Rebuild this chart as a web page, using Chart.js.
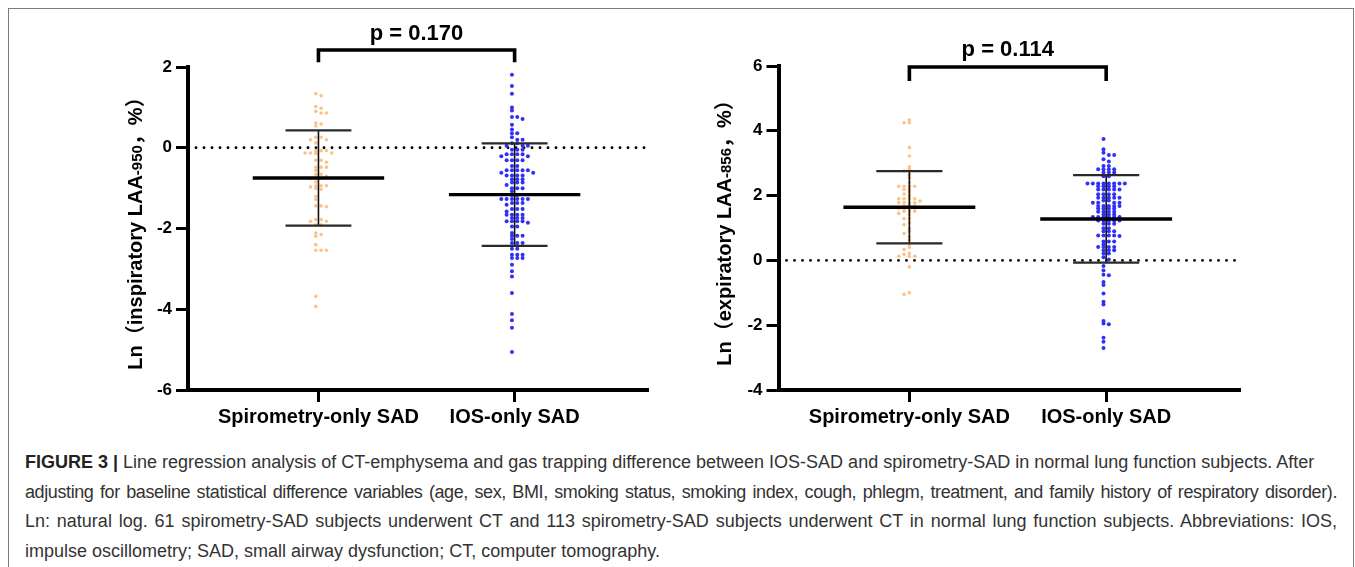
<!DOCTYPE html>
<html><head><meta charset="utf-8">
<script src="https://cdn.jsdelivr.net/npm/chart.js@4.4.1/dist/chart.umd.min.js"></script>
<style>
html,body{margin:0;padding:0;background:#fff;}
body{width:1355px;height:567px;position:relative;overflow:hidden;font-family:"Liberation Sans",Arial,sans-serif;}
#frame{position:absolute;left:8px;top:8px;width:1346px;height:600px;border:1px solid #7d7d7d;box-sizing:border-box;}
#c1{position:absolute;left:10px;top:10px;}
#c2{position:absolute;left:680px;top:10px;}
.cap{position:absolute;left:25px;font-size:18px;color:#333;line-height:29.5px;white-space:nowrap;}
.cap b{color:#222;}
.j{text-align:justify;text-align-last:justify;}
</style></head>
<body>
<div id="frame"></div>
<canvas id="c1" width="660" height="420"></canvas>
<canvas id="c2" width="670" height="420"></canvas>
<div class="cap" style="top:448px"><b>FIGURE 3 |</b> Line regression analysis of CT-emphysema and gas trapping difference between IOS-SAD and spirometry-SAD in normal lung function subjects. After</div>
<div class="cap j" style="top:477.5px;width:1312px;letter-spacing:-0.4px;word-spacing:-1px">adjusting for baseline statistical difference variables (age, sex, BMI, smoking status, smoking index, cough, phlegm, treatment, and family history of respiratory disorder).</div>
<div class="cap j" style="top:507px;width:1312px">Ln: natural log. 61 spirometry-SAD subjects underwent CT and 113 spirometry-SAD subjects underwent CT in normal lung function subjects. Abbreviations: IOS,</div>
<div class="cap" style="top:536.5px">impulse oscillometry; SAD, small airway dysfunction; CT, computer tomography.</div>
<script>
// ---------------- DATA ----------------
const categories = ['Spirometry-only SAD', 'IOS-only SAD'];

const inspSpirometry = [1.34, 1.29, 1.02, 0.98, 0.90, 0.86, 0.86, 0.61, 0.59, 0.54, 0.26, 0.26, 0.20, 0.20, 0.12,
  -0.07, -0.07, -0.07, -0.13, -0.13, -0.13, -0.14, -0.31, -0.31, -0.36, -0.48, -0.48, -0.48, -0.56, -0.66, -0.66,
  -0.71, -0.76, -0.76, -0.76, -0.85, -0.94, -0.94, -0.94, -0.97, -1.01, -1.03, -1.20, -1.28, -1.44, -1.44, -1.46,
  -1.78, -1.78, -1.82, -1.82, -1.91, -1.91, -2.11, -2.15, -2.19, -2.40, -2.54, -2.54, -2.54, -3.68, -3.93];

const inspIOS = [1.81, 1.53, 1.34, 1.00, 0.92, 0.76, 0.76, 0.71, 0.57, 0.45, 0.36, 0.36, 0.26, 0.20, 0.20, 0.11, 0.11,
  0.05, 0.05, 0.05, -0.05, -0.05, -0.05, -0.16, -0.16, -0.16, -0.16, -0.21, -0.21, -0.31, -0.31, -0.31, -0.31,
  -0.45, -0.45, -0.56, -0.56, -0.56, -0.56, -0.56, -0.62, -0.62, -0.69, -0.69, -0.69, -0.69, -0.78, -0.78, -0.78,
  -0.86, -0.86, -0.86, -0.92, -1.00, -1.00, -1.00, -1.08, -1.17, -1.17, -1.27, -1.27, -1.27, -1.27, -1.27, -1.27,
  -1.37, -1.37, -1.37, -1.41, -1.52, -1.52, -1.52, -1.58, -1.66, -1.66, -1.66, -1.66, -1.74, -1.74, -1.74,
  -1.82, -1.82, -1.82, -1.82, -1.86, -1.95, -1.95, -2.11, -2.18, -2.18, -2.18, -2.26, -2.36, -2.36, -2.36,
  -2.50, -2.50, -2.65, -2.65, -2.65, -2.73, -2.73, -2.73, -2.90, -3.06, -3.19, -3.60, -4.12, -4.27, -4.46, -5.06];

const expSpirometry = [4.33, 4.25, 4.25, 3.48, 3.22, 2.89, 2.81, 2.76, 2.65, 2.55, 2.40, 2.29, 2.29, 2.29, 2.29,
  2.19, 2.19, 2.11, 2.05, 2.00, 1.90, 1.90, 1.90, 1.90, 1.83, 1.78, 1.78, 1.78, 1.78, 1.68, 1.68, 1.68,
  1.60, 1.60, 1.60, 1.60, 1.52, 1.52, 1.52, 1.45, 1.42, 1.29, 1.29, 1.16, 1.10, 0.98, 0.90, 0.83, 0.73, 0.63,
  0.49, 0.40, 0.34, 0.22, 0.19, 0.13, 0.13, 0.13, -0.20, -1.00, -1.05];

const expIOS = [3.75, 3.43, 3.32, 3.25, 3.25, 3.12, 3.05, 2.91, 2.91, 2.81, 2.81, 2.81, 2.81, 2.71, 2.71, 2.71,
  2.60, 2.60, 2.37, 2.37, 2.37, 2.37, 2.37, 2.37, 2.37, 2.37, 2.29, 2.29, 2.29, 2.29,
  2.19, 2.19, 2.19, 2.19, 2.19, 2.04, 2.04, 2.04, 2.04, 1.93, 1.93, 1.93, 1.93, 1.93, 1.85, 1.85,
  1.78, 1.78, 1.78, 1.78, 1.68, 1.68, 1.68, 1.68, 1.68, 1.60, 1.60, 1.60, 1.60, 1.50, 1.50, 1.50, 1.50,
  1.42, 1.42, 1.42, 1.34, 1.34, 1.34, 1.34, 1.34, 1.34, 1.23, 1.23, 1.23, 1.23, 1.23, 1.13, 1.13, 1.13,
  0.99, 0.99, 0.90, 0.90, 0.90, 0.77, 0.77, 0.77, 0.77, 0.75, 0.58, 0.58, 0.58, 0.49, 0.41, 0.41, 0.41, 0.41,
  0.31, 0.31, 0.31, 0.21, 0.21, 0.10, 0.03, -0.17, -0.31, -0.44, -0.46, -0.67, -0.76, -1.02, -1.28, -1.36,
  -1.87, -1.95, -1.97, -2.39, -2.51, -2.70];

const inspMeans = [-0.75, -1.16];
const inspSDs = [1.18, 1.27];
const expMeans = [1.64, 1.28];
const expSDs = [1.115, 1.35];

const inspTicks = [-6, -4, -2, 0, 2];
const expTicks = [-4, -2, 0, 2, 4, 6];

const pLabels = ['p = 0.170', 'p = 0.114'];
const inspTitleParts = ['Ln（inspiratory LAA', '-950', '，%）'];
const expTitleParts = ['Ln（expiratory LAA', '-856', '，%）'];

// ---------------- DRAWING ----------------
const FONT = '"Liberation Sans", Arial, "Noto Sans CJK SC", sans-serif';
const ORANGE = 'rgb(251,195,140)';
const BLUE = 'rgb(48,48,250)';

// deterministic beeswarm: place each value in the nearest free column
function swarm(values, center, grid, sepUnits, step) {
  const cols = [];
  if (grid === 'half') { // -0.5, 0.5, 1.5, -1.5, 2.5, -2.5 ...
    cols.push(-0.5, 0.5);
    for (let k = 1; k < 7; k++) { cols.push(k + 0.5, -(k + 0.5)); }
  } else {               // 0, -1, 1, -2, 2 ...
    cols.push(0);
    for (let k = 1; k < 7; k++) { cols.push(-k, k); }
  }
  const idx = values.map((v, i) => i).sort((a, b) => values[b] - values[a]);
  const placed = [];
  const out = [];
  idx.forEach(i => {
    const v = values[i];
    let col = cols[cols.length - 1];
    for (const c of cols) {
      if (!placed.some(p => p.c === c && Math.abs(p.v - v) < sepUnits)) { col = c; break; }
    }
    placed.push({ c: col, v });
    out.push({ x: center + col * step, y: v });
  });
  return out;
}

function overlay(o) {
  return {
    id: 'overlay',
    beforeDatasetsDraw(chart) {
      const { ctx, chartArea: a, scales: { y } } = chart;
      const yz = y.getPixelForValue(0);
      ctx.save();
      ctx.fillStyle = '#000';
      for (let px = a.left + 8; px <= a.right - 1; px += 8) {
        ctx.beginPath(); ctx.arc(px, yz, 1.4, 0, Math.PI * 2); ctx.fill();
      }
      ctx.restore();
    },
    afterDatasetsDraw(chart) {
      const { ctx, scales: { x, y } } = chart;
      ctx.save();
      o.means.forEach((m, i) => {
        const c = i + 1;
        const xc = x.getPixelForValue(c);
        const ym = y.getPixelForValue(m);
        const yu = y.getPixelForValue(m + o.sds[i]);
        const yl = y.getPixelForValue(m - o.sds[i]);
        ctx.strokeStyle = '#111';
        ctx.lineWidth = 1.6;
        ctx.beginPath(); ctx.moveTo(xc, yu); ctx.lineTo(xc, yl); ctx.stroke();
        ctx.strokeStyle = '#2a2a2a';
        ctx.lineWidth = 2.2;
        const c1 = x.getPixelForValue(c - 0.168), c2 = x.getPixelForValue(c + 0.168);
        ctx.beginPath(); ctx.moveTo(c1, yu); ctx.lineTo(c2, yu); ctx.moveTo(c1, yl); ctx.lineTo(c2, yl); ctx.stroke();
        ctx.strokeStyle = '#000';
        ctx.lineWidth = 3.4;
        ctx.beginPath(); ctx.moveTo(x.getPixelForValue(c - 0.335), ym); ctx.lineTo(x.getPixelForValue(c + 0.335), ym); ctx.stroke();
      });
      ctx.restore();
    },
    afterDraw(chart) {
      const { ctx, chartArea: a, scales: { x, y } } = chart;
      ctx.save();
      // significance bracket
      const x1 = x.getPixelForValue(1), x2 = x.getPixelForValue(2);
      const yt = y.getPixelForValue(o.bracket[0]), ye = y.getPixelForValue(o.bracket[1]);
      ctx.strokeStyle = '#000'; ctx.lineWidth = 3.6; ctx.lineJoin = 'miter'; ctx.lineCap = 'butt';
      ctx.beginPath(); ctx.moveTo(x1, ye); ctx.lineTo(x1, yt); ctx.lineTo(x2, yt); ctx.lineTo(x2, ye); ctx.stroke();
      ctx.fillStyle = '#000';
      ctx.font = 'bold 22px ' + FONT;
      ctx.textAlign = 'center'; ctx.textBaseline = 'alphabetic';
      ctx.fillText(o.pLabel, (x1 + x2) / 2, yt - 10.5);
      // y axis title with smaller subscript part
      ctx.translate(o.titleX, (a.top + a.bottom) / 2);
      ctx.rotate(-Math.PI / 2);
      const sizes = [20, 15, 20];
      let total = 0;
      o.titleParts.forEach((t, i) => { ctx.font = 'bold ' + sizes[i] + 'px ' + FONT; total += ctx.measureText(t).width; });
      let cx = -total / 2;
      ctx.textAlign = 'left';
      o.titleParts.forEach((t, i) => {
        ctx.font = 'bold ' + sizes[i] + 'px ' + FONT;
        ctx.fillText(t, cx, 0);
        cx += ctx.measureText(t).width;
      });
      ctx.restore();
    }
  };
}

function build(id, o) {
  const colors = [ORANGE, BLUE];
  const radii = [1.8, 2.0];
  const datasets = o.groups.map((vals, gi) => ({
    data: swarm(vals, gi + 1, o.grids[gi], o.sep, 0.0271),
    pointRadius: radii[gi],
    pointHoverRadius: radii[gi],
    pointBackgroundColor: colors[gi],
    pointBorderWidth: 0,
    showLine: false
  }));
  const tickFont = { family: FONT, size: 17, weight: 'bold' };
  new Chart(document.getElementById(id), {
    type: 'scatter',
    data: { datasets },
    options: {
      responsive: false, animation: false, devicePixelRatio: 1,
      layout: { padding: { top: o.padTop, right: o.padRight, left: 0, bottom: 0 } },
      plugins: { legend: { display: false }, tooltip: { enabled: false } },
      scales: {
        x: {
          type: 'linear', min: 0.335, max: 2.68,
          afterBuildTicks: s => { s.ticks = [{ value: 1 }, { value: 2 }]; },
          afterFit: s => { s.height = 40; },
          ticks: { callback: v => categories[v - 1], font: { family: FONT, size: 20, weight: 'bold' }, color: '#000', padding: 3, maxRotation: 0, autoSkip: false },
          grid: { display: true, drawOnChartArea: false, drawTicks: true, tickLength: 12, tickWidth: 3, tickColor: '#000' },
          border: { display: true, width: 4, color: '#000' }
        },
        y: {
          type: 'linear', min: o.ticks[0], max: o.ticks[o.ticks.length - 1],
          afterBuildTicks: s => { s.ticks = o.ticks.map(v => ({ value: v })); },
          afterFit: s => { s.width = o.yWidth; },
          ticks: { font: tickFont, color: '#000', padding: 4 },
          grid: { display: true, drawOnChartArea: false, drawTicks: true, tickLength: 12, tickWidth: 3, tickColor: '#000' },
          border: { display: true, width: 4, color: '#000' }
        }
      }
    },
    plugins: [overlay(o)]
  });
}

build('c1', {
  groups: [inspSpirometry, inspIOS], grids: ['half', 'half'], sep: 0.062,
  means: inspMeans, sds: inspSDs, ticks: inspTicks,
  padTop: 57, padRight: 22, yWidth: 178,
  bracket: [2.42, 2.12], pLabel: pLabels[0],
  titleParts: inspTitleParts, titleX: 131.5
});
build('c2', {
  groups: [expSpirometry, expIOS], grids: ['int', 'half'], sep: 0.077,
  means: expMeans, sds: expSDs, ticks: expTicks,
  padTop: 56, padRight: 110, yWidth: 98.5,
  bracket: [5.97, 5.54], pLabel: pLabels[1],
  titleParts: expTitleParts, titleX: 50.5
});
</script>
</body></html>
